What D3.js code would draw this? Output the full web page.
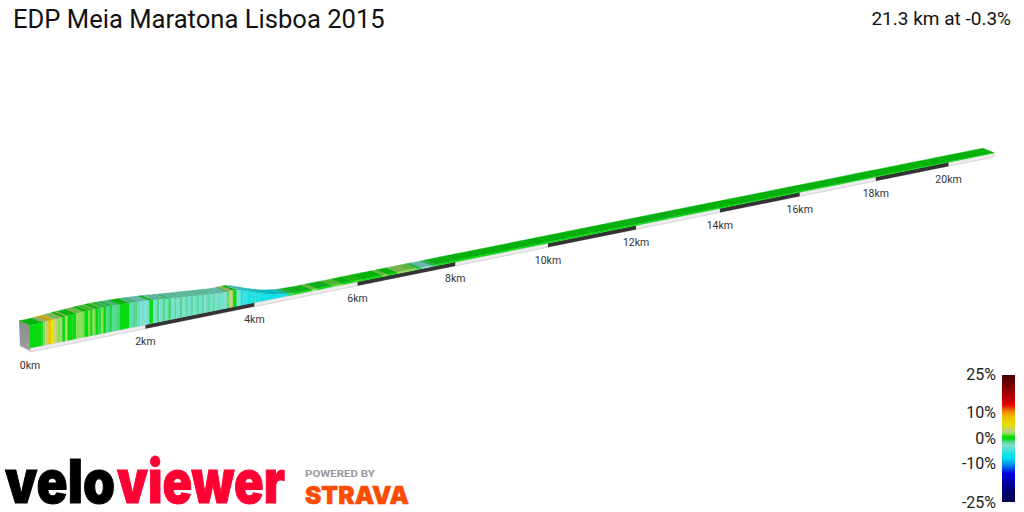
<!DOCTYPE html>
<html><head><meta charset="utf-8">
<script src="https://cdn.jsdelivr.net/npm/d3@7"></script>
<style>html,body{margin:0;padding:0;background:#fff}svg{display:block}text{font-family:Roboto,sans-serif}</style>
</head><body><svg id="c" width="1024" height="512"></svg>
<script>
const title = "EDP Meia Maratona Lisboa 2015";
const summary = "21.3 km at -0.3%";
const totalKm = 21.3;
const kmTicks = [0,2,4,6,8,10,12,14,16,18,20];
const darkRanges = [[2,4],[6,8],[10,12],[14,16],[18,20]];
const elevKm = [0,0.2,0.35,0.6,1.0,1.2,1.6,2,2.6,3.4,3.5,3.6,3.7,4,4.3,4.6,5,6,8,12,16,21.3];
const elevM  = [65,65,67,70,73,74,72,68,58,46,46.5,47,46,29,14,6,4,4,4,3,2,1];
const sliceEnd = [0.19,0.22,0.26,0.31,0.36,0.40,0.43,0.47,0.52,0.55,0.60,0.64,0.72,0.79,0.86,0.93,1.0,1.03,1.07,1.12,1.17,1.22,1.26,1.31,1.36,1.42,1.47,1.55,1.72,1.78,1.86,1.91,2.0,
 2.07,2.14,2.2,2.25,2.31,2.36,2.41,2.46,2.52,2.56,2.62,2.67,2.72,2.77,2.82,2.87,2.92,2.97,3.02,3.07,3.12,3.17,3.22,3.27,3.32,3.38,3.44,3.5,3.52,3.6,3.67,3.74,3.8,3.88,3.94,4.0,4.1,4.2,4.35,4.5,4.65,4.75,4.85,5.0,5.1,5.2,5.3,5.5,5.7,5.9,6.1,6.3,6.5,6.6,6.8,7.0,7.2,7.3,7.5,7.6,7.8,8.0,9,10,11,12,13,14,14.5,15,16,17,18,18.5,19,19.3,19.6,20,21.3];
const sliceGrade = [0,-0.5,1.5,3,8,5,3,2.5,1.5,2.5,0.3,2.5,0.2,0,1.8,1.5,0.4,1.8,0.2,1.8,0.1,-0.8,1.6,0,-1.5,-0.8,-1.6,-1.4,0,-2.2,-1.5,-2.5,-3.2,
 -3.2,0,-3.2,-1.5,-3.2,-1.5,-2.8,-1.2,-3.2,-1.8,-3.2,-1.5,-3,-2,-3.5,-1.8,-3.2,-2,-3.5,-2,-3,-1.8,-3.5,-2.2,-3.2,-2.5,-3.5,-2.8,-0.3,3,0,-3,-6,-5,-6.5,-6,-6,-6.5,-7,-8,-6,-1,0,-0.5,0,1.5,0,-0.5,1.2,0,0.8,0,0.3,1.5,0,2,1.5,-1,-3,-1,-0.4,0,0,0,0,0,-0.2,0,0.5,0,0,0,0,0,0.5,0,0.5,0,0];
const gradeStops = [-25,-20,-14,-11,-8,-6,-3,-1.5,-0.5,0.5,1.5,3,5,8,10,13,18,25];
const colorStops = ["#00004d","#00007f","#0000e0","#0080e8","#00e0f0","#20e0e0","#80e0d0","#50d890","#10d820","#00dc00","#80e050","#c8d080","#e6e000","#f0c000","#f09000","#e00000","#a00000","#400000"];
const legendTicks = [25,10,0,-10,-25];

const svg = d3.select("#c");
const persp = k => (k/(1+0.01466*k));
const t = d3.scaleLinear().domain([persp(0),persp(totalKm)]).range([0,1]);
const xScale = d3.scaleLinear().domain([0,1]).range([30,994]);
const yScale = d3.scaleLinear().domain([0,1]).range([348,153]);
const kx = k => xScale(t(persp(k)));
const ky = k => yScale(t(persp(k)));
const elev = d3.scaleLinear().domain(elevKm).range(elevM);
const hPx = d3.scaleLinear().domain([0,100]).range([0,35]);
const topY = k => ky(k)-hPx(elev(k));
const color = d3.scaleLinear().domain(gradeStops).range(colorStops).interpolate(d3.interpolateRgb);
const depth = {x:-11,y:-4.5};

const slices = sliceEnd.map((e,i)=>({a:i?sliceEnd[i-1]:0,b:e,g:sliceGrade[i]}));
const poly = pts => pts.map(p=>p.join(",")).join(" ");
const shadeTop = g => d3.rgb(color(g)).darker(0.6).formatHex();

const sg = svg.append("defs").append("linearGradient").attr("id","side").attr("x1",0).attr("x2",0).attr("y1",0).attr("y2",1);
sg.append("stop").attr("offset",0).attr("stop-color","#8a8a8a");
sg.append("stop").attr("offset",1).attr("stop-color","#a0a0a0");
svg.append("polygon").attr("fill","url(#side)")
  .attr("points",poly([[kx(0),ky(0)+3],[kx(0),topY(0)],[kx(0)+depth.x,topY(0)+depth.y],[kx(0)+depth.x+1,ky(0)-2]]));

svg.append("polygon").attr("fill","#ececec").attr("stroke","#b8b8b8").attr("stroke-width",0.5)
  .attr("points",poly([[kx(0),ky(0)],[kx(totalKm),ky(totalKm)],[kx(totalKm),ky(totalKm)+4],[kx(0),ky(0)+4]]));
svg.append("g").selectAll("polygon").data(darkRanges).join("polygon").attr("fill","#333")
  .attr("points",d=>poly([[kx(d[0]),ky(d[0])],[kx(d[1]),ky(d[1])],[kx(d[1]),ky(d[1])+4],[kx(d[0]),ky(d[0])+4]]));

svg.append("g").selectAll("polygon").data(slices).join("polygon")
  .attr("fill",d=>shadeTop(d.g)).attr("stroke",d=>shadeTop(d.g)).attr("stroke-width",0.4)
  .attr("points",d=>poly([[kx(d.a),topY(d.a)],[kx(d.b),topY(d.b)],[kx(d.b)+depth.x,topY(d.b)+depth.y],[kx(d.a)+depth.x,topY(d.a)+depth.y]]));
svg.append("g").selectAll("polygon").data(slices).join("polygon")
  .attr("fill",d=>color(d.g)).attr("stroke",d=>color(d.g)).attr("stroke-width",0.3)
  .attr("points",d=>poly([[kx(d.a),topY(d.a)],[kx(d.b),topY(d.b)],[kx(d.b),ky(d.b)],[kx(d.a),ky(d.a)]]));

svg.append("g").selectAll("text").data(kmTicks).join("text")
  .attr("x",d=>kx(d)).attr("y",d=>ky(d)+20.5).attr("text-anchor","middle")
  .attr("font-size",10.5).attr("fill","#333").text(d=>d+"km");

svg.append("text").attr("x",13).attr("y",28).attr("font-size",25.6).attr("fill","#111").text(title);
svg.append("text").attr("x",1011).attr("y",24.5).attr("text-anchor","end").attr("font-size",19).attr("fill","#111").text(summary);

const legY = d3.scaleLinear().domain([25,10,0,-10,-25]).range([375,412,438,463,502]);
const lg = svg.select("defs").append("linearGradient").attr("id","leg").attr("x1",0).attr("x2",0).attr("y1",0).attr("y2",1);
gradeStops.slice().reverse().forEach(g=>{
  lg.append("stop").attr("offset",(legY(g)-375)/127).attr("stop-color",color(g));
});
svg.append("rect").attr("x",1002).attr("y",375).attr("width",13).attr("height",127).attr("fill","url(#leg)");
svg.append("g").selectAll("text").data(legendTicks).join("text")
  .attr("x",996).attr("y",d=>d===25?379.5:d===-25?507.5:legY(d)+5.5).attr("text-anchor","end")
  .attr("font-size",16).attr("fill","#222").text(d=>d+"%");

const logoFont = "Inter, Roboto, sans-serif";
function fitted(str,x,y,w,size,fill,font,weight,stroke){
  const n = svg.append("text").style("font-family",font).attr("font-size",size).attr("font-weight",weight)
    .attr("fill",fill).attr("stroke",fill).attr("stroke-width",stroke).text(str);
  const natural = n.node().getComputedTextLength();
  n.attr("transform",`translate(${x},${y}) scale(${w/natural},1)`);
}
fitted("velo",5,503,110,60,"#000",logoFont,900,1);
fitted("viewer",117,503,168,60,"#ff0033",logoFont,900,1);
fitted("POWERED BY",305,476.5,70,9.5,"#999","Roboto, sans-serif",700,0);
fitted("STRAVA",305,503.5,104,25,"#fc4c02",logoFont,900,0.5);
</script></body></html>
